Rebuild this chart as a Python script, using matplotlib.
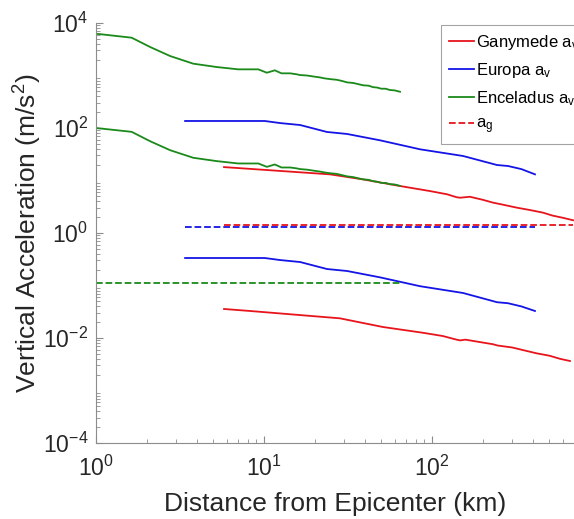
import matplotlib
matplotlib.use('Agg')
import matplotlib.pyplot as plt

plt.rcParams['font.family'] = ['Liberation Sans', 'DejaVu Sans']
plt.rcParams['mathtext.fontset'] = 'custom'
plt.rcParams['mathtext.rm'] = 'Liberation Sans'
plt.rcParams['mathtext.it'] = 'Liberation Sans:italic'
plt.rcParams['mathtext.default'] = 'regular'

# distances (km) and vertical accelerations (m/s^2)
encel_x = [1.0, 1.63, 2.1, 2.76, 3.79, 5.23, 7.03, 9.25, 10.4, 11.6, 12.7, 14.3,
           15.5, 16.4, 18, 20, 21.5, 23, 25, 27, 29, 31.2, 34,
           36, 39, 42, 44.5, 47, 50, 53, 56, 60, 64.5]
encel_hi = [6250, 5250, 3490, 2350, 1680, 1450, 1310, 1310, 1130, 1255, 1100, 1100,
            1060, 1020, 1000, 950, 920, 880, 850, 830, 790, 740, 720,
            690, 650, 640, 600, 590, 560, 560, 530, 520, 490]
encel_lo = [100, 84.5, 56, 37.8, 27.1, 23.4, 21.1, 21.1, 18.2, 20.2, 17.7, 17.7,
            17.1, 16.5, 16.1, 15.3, 14.8, 14.2, 13.7, 13.4, 12.7, 12.0, 11.6,
            11.1, 10.5, 10.3, 9.7, 9.5, 9.0, 9.0, 8.5, 8.4, 7.9]

gany_x = [5.78, 12.5, 24.7, 38.8, 64.5, 97, 123, 140, 147, 168, 200, 231, 260, 321,
          380, 458, 520, 600, 691]
gany_hi = [18, 15.2, 13.1, 10.5, 7.85, 6.3, 5.46, 4.8, 4.7, 4.9, 4.3, 3.78, 3.5, 3.03,
           2.75, 2.44, 2.15, 1.95, 1.75]
gany_lo_x = [5.78, 8.26, 28.3, 51, 88, 116, 140, 147, 158, 200, 231, 245, 300, 367,
             420, 500, 580, 662]
gany_lo = [0.0357, 0.0327, 0.0237, 0.0162, 0.0126, 0.0109, 0.0093, 0.0090, 0.0093,
           0.0082, 0.0076, 0.0072, 0.0066, 0.00565, 0.0051, 0.0046, 0.0040, 0.00365]

europa_x = [3.39, 10.1, 12.5, 16.4, 23.7, 31.2, 49, 84.8, 153, 244, 283, 340, 410]
europa_hi = [136, 136, 124, 114, 84, 77, 58.3, 39.3, 29.3, 19.7, 18.9, 16.5, 13.1]
europa_lo = [0.334, 0.334, 0.305, 0.28, 0.206, 0.189, 0.143, 0.097, 0.072, 0.048,
             0.046, 0.040, 0.0327]

# surface gravity a_g
g_gany, g_europa, g_encel = 1.428, 1.315, 0.113

red, blue, green = '#e8141c', '#1414e6', '#1a8a1a'
lw = 1.3

fig = plt.figure(figsize=(5.74, 5.19), dpi=100)
ax = fig.add_axes([96 / 574, 76 / 519, 478 / 574, 420 / 519])

ax.loglog(gany_x, gany_hi, color=red, lw=lw, label='Ganymede a$_v$')
ax.loglog(europa_x, europa_hi, color=blue, lw=lw, label='Europa a$_v$')
ax.loglog(encel_x, encel_hi, color=green, lw=lw, label='Enceladus a$_v$')
ax.loglog([gany_x[0], gany_x[-1]], [g_gany] * 2, '--', color=red, lw=lw, label='a$_g$')
ax.loglog(gany_lo_x, gany_lo, color=red, lw=lw)
ax.loglog(europa_x, europa_lo, color=blue, lw=lw)
ax.loglog(encel_x, encel_lo, color=green, lw=lw)
ax.loglog([europa_x[0], europa_x[-1]], [g_europa] * 2, '--', color=blue, lw=lw)
ax.loglog([encel_x[0], encel_x[-1]], [g_encel] * 2, '--', color=green, lw=lw)

ax.set_xlim(1, 10 ** 2.845)
ax.set_ylim(1e-4, 1e4)
ax.set_yticks([1e-4, 1e-2, 1e0, 1e2, 1e4])
ax.set_xticks([1, 10, 100])

for s in ['top', 'right']:
    ax.spines[s].set_visible(False)
for s in ['left', 'bottom']:
    ax.spines[s].set_color('#8c8c8c')
ax.tick_params(which='both', direction='in', colors='#8c8c8c', labelcolor='#262626',
               labelsize=16.5)
ax.tick_params(axis='y', pad=5.5)
ax.tick_params(axis='x', pad=9)
ax.tick_params(which='major', length=5)
ax.tick_params(which='minor', length=3)

ax.set_xlabel('Distance from Epicenter (km)', fontsize=19, color='#262626')
ax.set_ylabel('Vertical Acceleration (m/s$^2$)', fontsize=19, color='#262626')
ax.xaxis.set_label_coords(0.5, -0.117)
ax.yaxis.set_label_coords(-0.108, 0.5)

leg = ax.legend(loc='upper left', bbox_to_anchor=(441 / 574, 1 - 25 / 519),
                bbox_transform=fig.transFigure, fontsize=12, frameon=True,
                fancybox=False, handlelength=1.55, handletextpad=0.1,
                borderpad=0.45, labelspacing=0.55, borderaxespad=0)
leg.get_frame().set_edgecolor('#8c8c8c')
leg.get_frame().set_linewidth(0.8)

plt.savefig('out.png', dpi=100)
plt.close(fig)
